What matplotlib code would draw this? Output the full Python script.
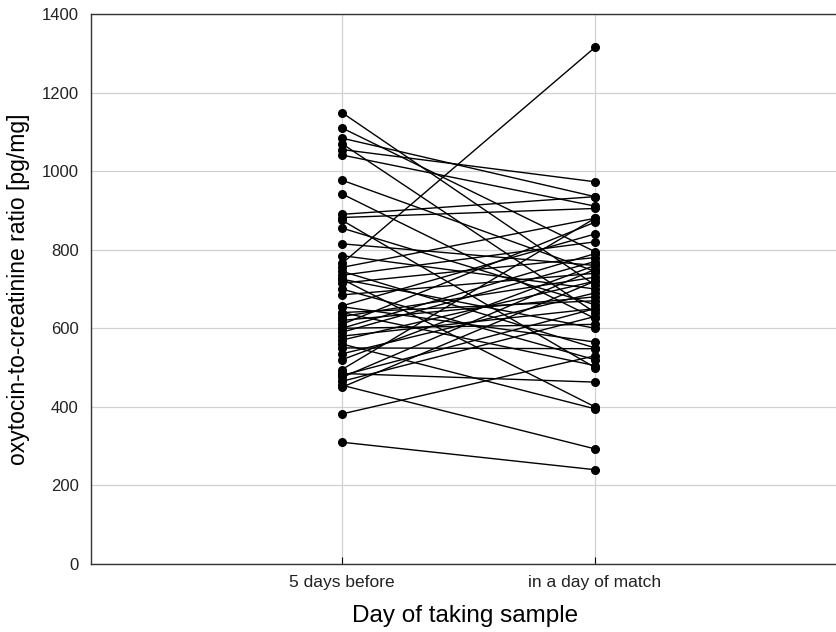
import numpy as np
import matplotlib
matplotlib.use('Agg')
import matplotlib.pyplot as plt

plt.rcParams['font.family'] = ['Liberation Sans', 'DejaVu Sans']

# sample days
days = ['5 days before', 'in a day of match']

# oxytocin-to-creatinine ratio per subject [pg/mg]
before = [1149, 1110, 1084, 1070, 1055, 1041, 977, 942, 890, 882,
          875, 855, 815, 785, 765, 755, 745, 735, 725, 715,
          700, 685, 657, 640, 630, 620, 610, 600, 590, 580,
          570, 560, 550, 535, 495, 485, 475, 465, 455, 450,
          382, 310, 725, 655, 600, 480, 520, 640]
after = [710, 795, 935, 640, 973, 911, 745, 625, 935, 905,
         500, 660, 760, 700, 1315, 880, 550, 820, 600, 780,
         520, 740, 840, 505, 730, 680, 870, 610, 770, 650,
         720, 395, 548, 690, 880, 463, 750, 630, 293, 720,
         530, 240, 400, 565, 790, 650, 760, 670]

fig = plt.figure(figsize=(8.36, 6.32), dpi=100)
ax = fig.add_axes([91/836, 68/632, 759/836, 550/632])

xpos = [1, 2]
for b, a in zip(before, after):
    ax.plot(xpos, [b, a], color='black', lw=1.0, marker='o', ms=5.5,
            mfc='black', mec='black', zorder=3)

ax.set_xlim(0.008, 3.008)
ax.set_ylim(0, 1400)
ax.set_yticks(np.arange(0, 1401, 200))
ax.set_xticks(xpos)
ax.set_xticklabels(days)
ax.grid(True, color='#d0d0d0', lw=0.9, zorder=0)
ax.set_axisbelow(True)

ax.tick_params(axis='x', direction='in', length=5, labelsize=12.5, pad=8,
               labelcolor='#222222')
ax.tick_params(axis='y', direction='in', length=0, labelsize=12, pad=9,
               labelcolor='#222222')

ax.spines['right'].set_visible(False)
for s in ['left', 'top', 'bottom']:
    ax.spines[s].set_color('#333333')
    ax.spines[s].set_linewidth(1.0)

ax.set_xlabel('Day of taking sample', fontsize=17.5, labelpad=9)
ax.xaxis.set_label_coords(0.493, -0.075)
ax.set_ylabel('oxytocin-to-creatinine ratio [pg/mg]', fontsize=16.5, labelpad=8)

fig.savefig('out.png', dpi=100)
